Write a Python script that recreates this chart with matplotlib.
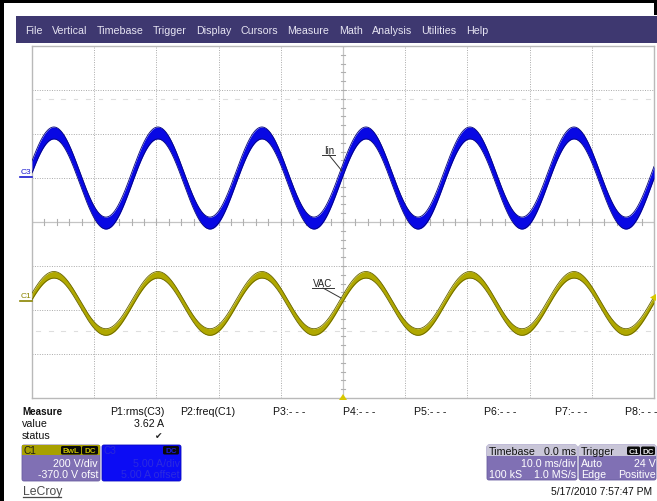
import numpy as np
import matplotlib
matplotlib.use('Agg')
import matplotlib.pyplot as plt
from matplotlib.patches import Rectangle, Polygon, FancyBboxPatch

plt.rcParams['font.family'] = ['Liberation Sans', 'DejaVu Sans']

# ---------------- data ----------------
menu_items = ['File', 'Vertical', 'Timebase', 'Trigger', 'Display', 'Cursors',
              'Measure', 'Math', 'Analysis', 'Utilities', 'Help']
meas_labels = ['P1:rms(C3)', 'P2:freq(C1)', 'P3:- - -', 'P4:- - -',
               'P5:- - -', 'P6:- - -', 'P7:- - -', 'P8:- - -']
meas_rows = ['value', 'status']
meas_value = '3.62 A'

timebase_ms_div = 10.0
n_hdiv, n_vdiv = 10, 8
line_freq_hz = 59.8

c3_rms_a = 3.62
c3_scale = 5.0        # A/div
c3_offset = 5.0       # A
c3_ripple = 0.68      # A (noise band half width)

c1_peak_v = 130.0
c1_scale = 200.0      # V/div
c1_offset = -370.0    # V
c1_ripple = 15.0      # V
trigger_level_v = 24.0

c1_box = ['200 V/div', '-370.0 V ofst']
c3_box = ['5.00 A/div', '5.00 A offset']
tb_box = [('Timebase', '0.0 ms'), ('', '10.0 ms/div'), ('100 kS', '1.0 MS/s')]
trig_box = [('Auto', '24 V'), ('Edge', 'Positive')]
timestamp = '5/17/2010 7:57:47 PM'

# ---------------- figure ----------------
W, H = 657, 502
fig = plt.figure(figsize=(W / 100, H / 100), dpi=100)
fig.patch.set_facecolor('white')

bg = fig.add_axes([0, 0, 1, 1], zorder=0)
bg.set_xlim(0, W)
bg.set_ylim(H, 0)
bg.axis('off')

# window frame
bg.add_patch(Rectangle((0, 0), 4, H, color='black', lw=0))
bg.add_patch(Rectangle((0, 0), W, 4, color='black', lw=0))
bg.add_patch(Rectangle((W - 3, 0), 3, 16, color='black', lw=0))

# menu bar
MENU_COL = '#3e3870'
bg.add_patch(Rectangle((16, 17), W - 16, 27, color=MENU_COL, lw=0))
fig.canvas.draw()
renderer = fig.canvas.get_renderer()
xcur = 25
for item in menu_items:
    t = bg.text(xcur, 31, item, color='#e6e4f2', fontsize=7.7,
                va='center', ha='left')
    bb = t.get_window_extent(renderer)
    xcur += bb.width + 9.3

# ---------------- scope axes ----------------
GX0, GX1, GY0, GY1 = 32, 654, 47, 399
ax = fig.add_axes([GX0 / W, 1 - GY1 / H, (GX1 - GX0) / W, (GY1 - GY0) / H], zorder=1)
half_t = timebase_ms_div * n_hdiv / 2
ax.set_xlim(-half_t, half_t)
ax.set_ylim(-n_vdiv / 2, n_vdiv / 2)
ax.set_xticks([])
ax.set_yticks([])
ax.set_facecolor('white')
for s in ax.spines.values():
    s.set_color('#b9b9b9')
    s.set_linewidth(1.0)

GRID_COL = '#a9a9a9'
for k in range(1, n_hdiv):
    xv = -half_t + k * timebase_ms_div
    if abs(xv) < 1e-9:
        continue
    ax.axvline(xv, color=GRID_COL, lw=0.7, ls=(0, (1, 1.5)), zorder=1)
for k in range(1, n_vdiv):
    yv = -n_vdiv / 2 + k
    if yv == 0:
        continue
    ax.axhline(yv, color=GRID_COL, lw=0.7, ls=(0, (1, 1.5)), zorder=1)
# centre axes with ticks
ax.axhline(0, color='#c4c4c4', lw=0.9, zorder=1)
ax.axvline(0, color='#c4c4c4', lw=0.9, zorder=1)
for xt in np.arange(-half_t, half_t + 0.01, timebase_ms_div / 5):
    ax.plot([xt, xt], [-0.07, 0.07], color='#b0b0b0', lw=0.8, zorder=1)
for yt in np.arange(-n_vdiv / 2, n_vdiv / 2 + 0.01, 0.2):
    ax.plot([-0.35, 0.35], [yt, yt], color='#b0b0b0', lw=0.8, zorder=1)
# faint dash rows (reference level marks)
for yrow in (2.8, -2.48):
    for xt in np.arange(-half_t + 1.0, half_t, timebase_ms_div / 5):
        ax.plot([xt - 0.3, xt + 0.3], [yrow, yrow], color='#dedede', lw=0.8, zorder=1)

# traces
t_ms = np.linspace(-half_t, half_t, 6001)
phase = np.arcsin(trigger_level_v / c1_peak_v)
w = 2 * np.pi * line_freq_hz / 1000.0
c3_amp = np.sqrt(2) * c3_rms_a
i_c3 = c3_amp * np.sin(w * t_ms + phase)
v_c1 = c1_peak_v * np.sin(w * t_ms + phase)

y3 = (i_c3 + c3_offset) / c3_scale
r3 = c3_ripple / c3_scale
ax.fill_between(t_ms, y3 - r3, y3 + r3, color='#0808e4', lw=0, zorder=3)
ax.plot(t_ms, y3 + r3, color='#06067a', lw=0.6, zorder=3)
ax.plot(t_ms, y3 - r3, color='#06067a', lw=0.6, zorder=3)

y1 = (v_c1 + c1_offset) / c1_scale
r1 = c1_ripple / c1_scale
ax.fill_between(t_ms, y1 - r1, y1 + r1, color='#b0a800', lw=0, zorder=3)
ax.plot(t_ms, y1 + r1, color='#686400', lw=0.6, zorder=3)
ax.plot(t_ms, y1 - r1, color='#686400', lw=0.6, zorder=3)

# ---------------- top overlay (pixel space) ----------------
top = fig.add_axes([0, 0, 1, 1], zorder=2)
top.set_xlim(0, W)
top.set_ylim(H, 0)
top.axis('off')
top.patch.set_alpha(0)

# channel markers
top.text(20.5, 173, 'C3', color='#1a1ad0', fontsize=6.0, va='center', ha='left')
top.plot([20, 32], [177.5, 177.5], color='#1a1ad0', lw=1.2)
top.text(20.5, 297, 'C1', color='#8a8400', fontsize=6.0, va='center', ha='left')
top.plot([20, 32], [301.5, 301.5], color='#8a8400', lw=1.2)

# trigger markers
top.add_patch(Polygon([[343, 395], [339, 401], [347, 401]], closed=True,
                      color='#d8c800', lw=0))
top.add_patch(Polygon([[650, 298.5], [656, 295], [656, 302]], closed=True,
                      color='#d8c800', lw=0))

# trace annotations
top.text(324, 151, 'Iin', color='#222222', fontsize=7, va='center', ha='left')
top.plot([322, 335], [156, 156], color='#333333', lw=0.7)
top.plot([329, 342], [156, 172], color='#333333', lw=0.7)
top.text(313, 284, 'VAC', color='#222222', fontsize=7, va='center', ha='left')
top.plot([312, 334], [289, 289], color='#333333', lw=0.7)
top.plot([323, 341], [289, 299], color='#333333', lw=0.7)

# ---------------- measure panel ----------------
FS = 7.7
top.text(22, 412, 'Measure', fontsize=7.1, fontweight='bold', va='center', ha='left', color='#111111')
for j, lab in enumerate(meas_rows):
    top.text(22, 424 + 12 * j, lab, fontsize=FS, va='center', ha='left', color='#111111')
col_right = 164.5
col_step = 70.4
for j, lab in enumerate(meas_labels):
    top.text(col_right + j * col_step, 412, lab, fontsize=FS, va='center',
             ha='right', color='#111111')
top.text(col_right, 424, meas_value, fontsize=FS, va='center', ha='right', color='#111111')
top.text(col_right - 2, 437, '\u2714', fontsize=6.5, va='center', ha='right',
         color='#222222', family='DejaVu Sans')

BODY = '#8070b4'


def badge(x, y, w, h, txt, fg):
    top.add_patch(FancyBboxPatch((x, y), w, h, boxstyle='round,pad=0,rounding_size=1.5',
                                 fc='#0a0a0a', ec='none'))
    top.text(x + w / 2, y + h / 2 + 0.3, txt, fontsize=5.8, va='center', ha='center',
             color=fg, fontweight='bold')


# C1 box
top.add_patch(FancyBboxPatch((22, 446), 78, 36, boxstyle='round,pad=0,rounding_size=2',
                             fc=BODY, ec='#6a5ea0', lw=0.6))
top.add_patch(Rectangle((22.3, 446.3), 77.4, 10, fc='#a8a000', ec='none'))
top.text(24, 451.5, 'C1', fontsize=7.2, va='center', ha='left', color='#1a1a1a')
badge(61, 447, 20, 8.5, 'BwL', '#c8c000')
badge(82, 447, 16, 8.5, 'DC', '#c8c000')
top.text(98, 464, c1_box[0], fontsize=FS, va='center', ha='right', color='white')
top.text(98, 475, c1_box[1], fontsize=FS, va='center', ha='right', color='white')

# C3 box
top.add_patch(FancyBboxPatch((102, 446), 79, 36, boxstyle='round,pad=0,rounding_size=2',
                             fc='#0c0cf4', ec='#0808c0', lw=0.6))
top.text(104, 451.5, 'C3', fontsize=7.2, va='center', ha='left', color='#2a2ad8')
badge(163, 447, 16, 8.5, 'DC', '#1a1ae0')
top.text(180, 464, c3_box[0], fontsize=FS, va='center', ha='right', color='#2b2be0')
top.text(180, 475, c3_box[1], fontsize=FS, va='center', ha='right', color='#2b2be0')

# LeCroy logo
top.text(23, 492, 'LeCroy', fontsize=8.8, va='center', ha='left', color='#4a4a4a')
top.plot([23, 61], [498, 498], color='#4a4a4a', lw=0.9)

# Timebase box
top.add_patch(FancyBboxPatch((487, 446), 90, 35, boxstyle='round,pad=0,rounding_size=2',
                             fc=BODY, ec='#6a5ea0', lw=0.6))
top.add_patch(Rectangle((487.3, 446.3), 89.4, 10.5, fc='#c9c6d8', ec='none'))
top.text(489, 452, tb_box[0][0], fontsize=FS, va='center', ha='left', color='#111111')
top.text(576, 452, tb_box[0][1], fontsize=FS, va='center', ha='right', color='#111111')
top.text(576, 464, tb_box[1][1], fontsize=FS, va='center', ha='right', color='white')
top.text(489, 475, tb_box[2][0], fontsize=FS, va='center', ha='left', color='white')
top.text(576, 475, tb_box[2][1], fontsize=FS, va='center', ha='right', color='white')

# Trigger box
top.add_patch(FancyBboxPatch((579, 446), 77, 35, boxstyle='round,pad=0,rounding_size=2',
                             fc=BODY, ec='#6a5ea0', lw=0.6))
top.add_patch(Rectangle((579.3, 446.3), 76.4, 10.5, fc='#c9c6d8', ec='none'))
top.text(581, 452, 'Trigger', fontsize=FS, va='center', ha='left', color='#111111')
badge(627, 447.5, 13, 8.5, 'C1', '#e8e8e8')
badge(641, 447.5, 14, 8.5, 'DC', '#e8e8e8')
for j, (l, r) in enumerate(trig_box):
    top.text(581, 464 + 11 * j, l, fontsize=FS, va='center', ha='left', color='white')
    top.text(656, 464 + 11 * j, r, fontsize=FS, va='center', ha='right', color='white')

top.text(652, 492, timestamp, fontsize=7.4, va='center', ha='right', color='#111111')

fig.savefig('out.png', dpi=100, facecolor='white')
